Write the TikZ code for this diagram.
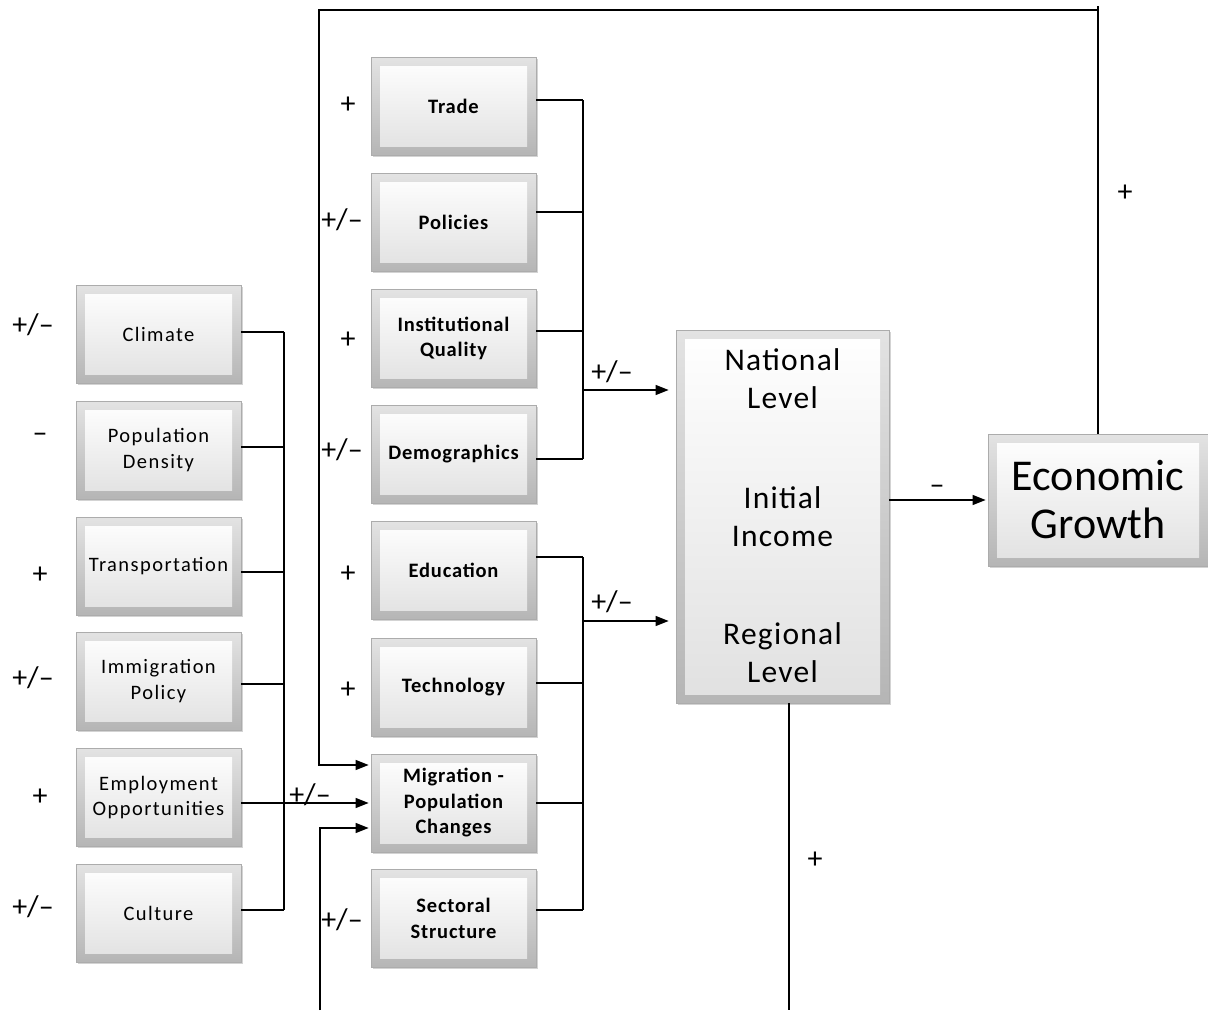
\documentclass[tikz,border=0pt]{standalone}
\usepackage{fontspec}
\setmainfont{Carlito}
\newfontfamily\boxfont[LetterSpace=7]{Carlito}
\newfontfamily\boxbold[LetterSpace=4]{Carlito Bold}
\newfontfamily\bigfont[LetterSpace=4]{Carlito}
\usetikzlibrary{arrows.meta,shadows}
\tikzset{
 bev/.style={draw=gray!65, line width=0.8pt, top color=gray!22, bottom color=gray!58, inner sep=0pt, align=center,
   drop shadow={shadow xshift=1.5pt, shadow yshift=-1.5pt, opacity=0.35, fill=gray},
   path picture={\shade[top color=white, bottom color=gray!24] ([shift={(9pt,-9pt)}]path picture bounding box.north west) rectangle ([shift={(-9pt,9pt)}]path picture bounding box.south east);}},
 sbox/.style={bev, minimum width=165pt, minimum height=98pt, font=\boxfont\fontsize{20.5}{25.5}\selectfont},
 mbox/.style={sbox, font=\boxbold\fontsize{20.5}{25.5}\selectfont},
 con/.style={line width=1.4pt},
 arr/.style={con, -{Triangle[length=13pt,width=10pt]}},
 lbl/.style={font=\fontsize{30}{32}\selectfont, inner sep=0pt},
 bigtxt/.style={font=\bigfont\fontsize{31.5}{38}\selectfont, align=center, inner sep=0pt},
}
\begin{document}
\begin{tikzpicture}[x=1pt,y=-1pt]
\useasboundingbox (0,0) rectangle (1208,1010);
% left column
\node[sbox] (climate) at (158.5,334) {Climate};
\node[sbox] (popd) at (158.5,450) {Population\\Density};
\node[sbox] (transp) at (158.5,566) {Transportation};
\node[sbox] (immig) at (158.5,681) {Immigration\\Policy};
\node[sbox] (employ) at (158.5,797.5) {Employment\\Opportunities};
\node[sbox] (culture) at (158.5,913) {Culture};
% middle column
\node[mbox] (trade) at (453.5,106) {Trade};
\node[mbox] (policies) at (453.5,222.5) {Policies};
\node[mbox] (iq) at (453.5,338.5) {Institutional\\Quality};
\node[mbox] (demog) at (453.5,454) {Demographics};
\node[mbox] (educ) at (453.5,570.5) {Education};
\node[mbox] (tech) at (453.5,687.5) {Technology};
\node[mbox] (migr) at (453.5,803) {Migration -\\Population\\Changes};
\node[mbox] (sect) at (453.5,918.5) {Sectoral\\Structure};
% big box
\node[bev, minimum width=213pt, minimum height=373pt, bigtxt] (income) at (782.5,516.5) {Initial\\Income};
\node[bigtxt] (nat) at (782.5,379) {National\\Level};
\node[bigtxt] (reg) at (782.5,653) {Regional\\Level};
% economic growth
\node[bev, minimum width=220pt, minimum height=132pt, font=\fontsize{44}{48}\selectfont] (eg) at (1098,500) {Economic\\Growth};

% left labels
\node[lbl] (l1) at (33,325) {+/–};
\node[lbl] (l2) at (40,438) {–};
\node[lbl] (l3) at (40,575) {+};
\node[lbl] (l4) at (33,678) {+/–};
\node[lbl] (l5) at (40,797) {+};
\node[lbl] (l6) at (33,907) {+/–};
% middle labels
\node[lbl] (m1) at (348,105) {+};
\node[lbl] (m2) at (342,220) {+/–};
\node[lbl] (m3) at (348,340) {+};
\node[lbl] (m4) at (342,450) {+/–};
\node[lbl] (m5) at (348,574) {+};
\node[lbl] (m6) at (348,690) {+};
\node[lbl] (m7) at (342,920) {+/–};
% other labels
\node[lbl] (e1) at (310,795) {+/–};
\node[lbl] (t1) at (612,372) {+/–};
\node[lbl] (t2) at (612,602) {+/–};
\node[lbl] (g1) at (937,490) {–};
\node[lbl] (f1) at (1125,193) {+};
\node[lbl] (f2) at (815,860) {+};

% left bus
\coordinate (lb) at (284,0);
\foreach \n/\s in {climate/2,popd/3,transp/-6,immig/-3,culture/3}
  \draw[con] ([yshift=\s pt]\n.east) -- ([yshift=\s pt]\n.east -| lb);
\draw[con] ([yshift=2pt]climate.east -| lb) -- ([yshift=3pt]culture.east -| lb);
\draw[arr, shorten >=2pt] (migr.west -| employ.east) -- (migr.west);

% top bus
\coordinate (tb) at (583,0);
\foreach \n/\s in {trade/6,policies/10.5,iq/7.5,demog/-5}
  \draw[con] ([yshift=\s pt]\n.east) -- ([yshift=\s pt]\n.east -| tb);
\draw[con] ([yshift=6pt]trade.east -| tb) -- ([yshift=-5pt]demog.east -| tb);
\coordinate (a1) at (583,390);
\draw[arr, shorten >=7pt] (a1) -- (a1 -| income.west);

% bottom bus
\foreach \n/\s in {educ/13.5,tech/4.5,migr/0,sect/8.5}
  \draw[con] ([yshift=\s pt]\n.east) -- ([yshift=\s pt]\n.east -| tb);
\draw[con] ([yshift=13.5pt]educ.east -| tb) -- ([yshift=8.5pt]sect.east -| tb);
\coordinate (a2) at (583,621);
\draw[arr, shorten >=7pt] (a2) -- (a2 -| income.west);

% income -> growth
\draw[arr, shorten >=2pt] (income.east |- eg.west) -- (eg.west);

% top feedback
\coordinate (tr) at (1098,6);
\coordinate (tl) at (319,10);
\coordinate (fb1) at (319,765);
\draw[con] (eg.north) -- (tr);
\draw[arr, shorten >=2pt] (tr |- tl) -- (tl) -- (fb1) -- (fb1 -| migr.west);

% bottom feedback
\coordinate (bb1) at (789,1010);
\draw[con] (bb1 |- income.south) -- (bb1);
\coordinate (bb2) at (320,1010);
\coordinate (fb2) at (320,828);
\draw[arr, shorten >=2pt] (bb2) -- (fb2) -- (fb2 -| migr.west);
\end{tikzpicture}
\end{document}
